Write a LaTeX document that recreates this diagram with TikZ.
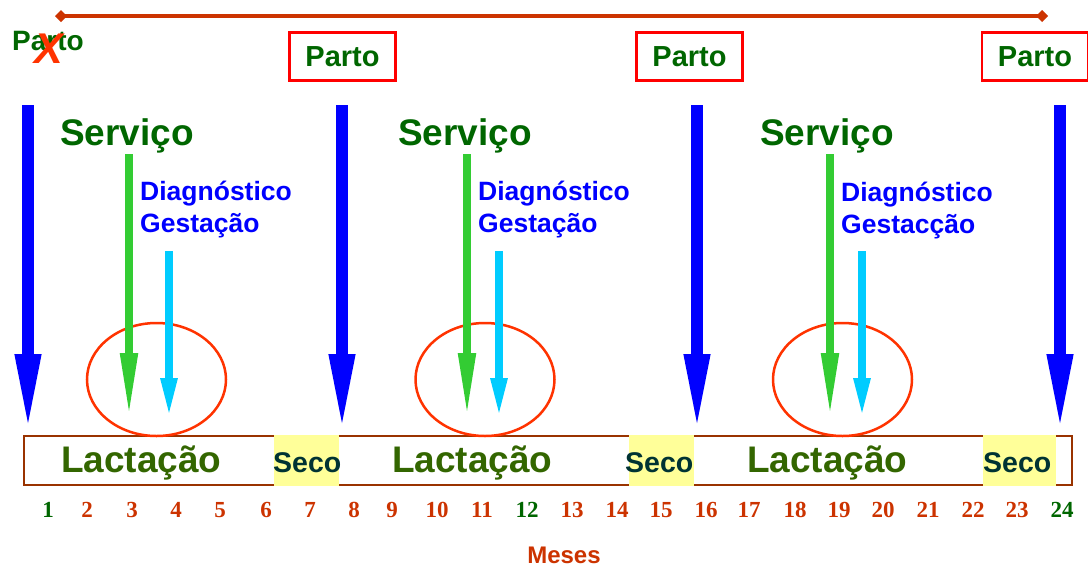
\documentclass[tikz,border=0pt]{standalone}
\usepackage{fontspec}
\setmainfont{Liberation Sans}
\newfontfamily\numfont{Liberation Serif}
\usepackage{tikz}
\usetikzlibrary{arrows.meta,shapes.geometric}

\definecolor{partogreen}{HTML}{006600}
\definecolor{partored}{HTML}{FF0000}
\definecolor{crossred}{HTML}{FF3300}
\definecolor{mesred}{HTML}{CC3300}
\definecolor{partoblue}{HTML}{0000FF}
\definecolor{servgreen}{HTML}{33CC33}
\definecolor{diagcyan}{HTML}{00CCFF}
\definecolor{boxbrown}{HTML}{993300}
\definecolor{secoyellow}{HTML}{FFFF99}
\definecolor{lactgreen}{HTML}{336600}
\definecolor{secoteal}{HTML}{003333}

\tikzset{
  partobox/.style={draw=partored, line width=2.5pt, minimum width=106pt, minimum height=48pt,
    inner sep=0pt, text=partogreen, font=\fontsize{29}{34}\selectfont\bfseries},
  partoarrow/.style={draw=partoblue, line width=12.5pt, -{Triangle[length=82pt,width=23pt]}},
  servarrow/.style={draw=servgreen, line width=8pt, -{Triangle[length=66pt,width=16pt]}},
  diagarrow/.style={draw=diagcyan, line width=8pt, -{Triangle[length=41pt,width=15pt]}},
  ring/.style={ellipse, draw=crossred, line width=2.5pt, minimum width=139pt, minimum height=113pt, inner sep=0pt},
  servtext/.style={anchor=base west, inner sep=0pt, text=partogreen, font=\fontsize{37}{44}\selectfont\bfseries},
  diagtext/.style={anchor=base west, inner sep=0pt, text=partoblue, font=\fontsize{26.5}{32}\selectfont\bfseries},
  lacttext/.style={anchor=base west, inner sep=0pt, text=lactgreen, font=\fontsize{37}{44}\selectfont\bfseries},
  secotext/.style={anchor=base west, inner sep=0pt, text=secoteal, font=\fontsize{28.5}{34}\selectfont\bfseries},
  mestext/.style={anchor=base, inner sep=0pt, font=\fontsize{23}{28}\selectfont\numfont\bfseries}
}

\begin{document}
\begin{tikzpicture}[x=1pt,y=-1pt]
        \useasboundingbox (0,0) rectangle (1088,566);

        % linha do tempo
        \coordinate (tl) at (55,16);
        \coordinate (tr) at (1048,16);
        \draw[mesred, line width=4pt, {Diamond[length=12pt,width=12pt]}-{Diamond[length=12pt,width=12pt]}] (tl) -- (tr);

        % partos
        \node[anchor=base west, inner sep=0pt, text=partogreen, font=\fontsize{28}{34}\selectfont\bfseries] (parto0) at (12,50) {Parto};
        \node[anchor=base west, inner sep=0pt, text=crossred, font=\fontsize{43}{50}\selectfont\bfseries\itshape] (cross) at (34,63) {X};
        \node[partobox] (parto1) at (342.5,56.5) {Parto};
        \node[partobox] (parto2) at (689.5,56.5) {Parto};
        \node[partobox] (parto3) at (1035,56.5) {Parto};

        % faixa de lactacao
        \draw[boxbrown, line width=2.5pt] (24,436) rectangle (1072,485);
        \fill[secoyellow] (274,435) rectangle (339,486);
        \fill[secoyellow] (629,435) rectangle (694,486);
        \fill[secoyellow] (983,435) rectangle (1056,486);
        \node[lacttext] (lact1) at (61,472) {Lactação};
        \node[lacttext] (lact2) at (392,472) {Lactação};
        \node[lacttext] (lact3) at (747,472) {Lactação};
        \node[secotext] (seco1) at (273,472) {Seco};
        \node[secotext] (seco2) at (625,472) {Seco};
        \node[secotext] (seco3) at (983,472) {Seco};

        % setas de parto
        \coordinate (p0a) at (28,105);   \coordinate (p0b) at (28,436);
        \coordinate (p1a) at (342,105);  \coordinate (p1b) at (342,436);
        \coordinate (p2a) at (697,105);  \coordinate (p2b) at (697,436);
        \coordinate (p3a) at (1060,105); \coordinate (p3b) at (1060,436);
        \draw[partoarrow] (p0a) -- (p0b);
        \draw[partoarrow] (p1a) -- (p1b);
        \draw[partoarrow] (p2a) -- (p2b);
        \draw[partoarrow] (p3a) -- (p3b);

        % servico e diagnostico
        \node[servtext] (serv1) at (60,145) {Serviço};
        \node[servtext] (serv2) at (398,145) {Serviço};
        \node[servtext] (serv3) at (760,145) {Serviço};
        \node[diagtext] (diag1) at (140,200) {Diagnóstico};
        \node[diagtext] (gest1) at (140,232) {Gestação};
        \node[diagtext] (diag2) at (478,200) {Diagnóstico};
        \node[diagtext] (gest2) at (478,232) {Gestação};
        \node[diagtext] (diag3) at (841,201) {Diagnóstico};
        \node[diagtext] (gest3) at (841,233) {Gestacção};

        \node[ring] (ring1) at (156.5,379.5) {};
        \node[ring] (ring2) at (485,379.5) {};
        \node[ring] (ring3) at (842.5,379.5) {};

        \coordinate (s1a) at (129,154); \coordinate (s1b) at (129,419);
        \coordinate (s2a) at (467,154); \coordinate (s2b) at (467,419);
        \coordinate (s3a) at (830,154); \coordinate (s3b) at (830,419);
        \coordinate (d1a) at (169,251); \coordinate (d1b) at (169,419);
        \coordinate (d2a) at (499,251); \coordinate (d2b) at (499,419);
        \coordinate (d3a) at (862,251); \coordinate (d3b) at (862,419);
        \draw[servarrow] (s1a) -- (s1b);
        \draw[servarrow] (s2a) -- (s2b);
        \draw[servarrow] (s3a) -- (s3b);
        \draw[diagarrow] (d1a) -- (d1b);
        \draw[diagarrow] (d2a) -- (d2b);
        \draw[diagarrow] (d3a) -- (d3b);

        % meses
        \foreach \n/\x/\c in {1/48/partogreen, 2/87/mesred, 3/132/mesred, 4/176/mesred,
            5/220/mesred, 6/266/mesred, 7/310/mesred, 8/354/mesred, 9/392/mesred,
            10/437/mesred, 11/482/mesred, 12/527/partogreen, 13/572/mesred, 14/617/mesred,
            15/661/mesred, 16/706/mesred, 17/749/mesred, 18/795/mesred, 19/839/mesred,
            20/883/mesred, 21/928/mesred, 22/973/mesred, 23/1017/mesred, 24/1062/partogreen}
            \node[mestext, text=\c] (m\n) at (\x,517) {\n};
        \node[anchor=base, inner sep=0pt, text=mesred, font=\fontsize{24}{29}\selectfont\bfseries] (meses) at (564,563) {Meses};
\end{tikzpicture}
\end{document}
